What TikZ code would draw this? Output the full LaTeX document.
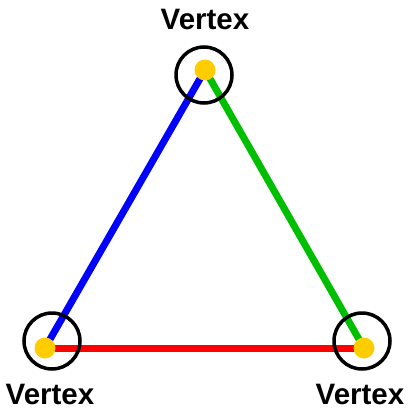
\documentclass[tikz,border=0pt]{standalone}
\usepackage{fontspec}
\setmainfont{Liberation Sans}
\begin{document}
\begin{tikzpicture}[x=1pt,y=-1pt,
  edge/.style={line width=7pt},
  ring/.style={draw=black,line width=3.5pt,circle,minimum size=56pt,inner sep=0pt},
  dot/.style={fill={rgb,255:red,255;green,204;blue,0},circle,minimum size=21pt,inner sep=0pt},
  lbl/.style={font=\bfseries\fontsize{29.5}{31}\selectfont,anchor=base,inner sep=0pt}]
\useasboundingbox (0,0) rectangle (407,412);
% vertex points
\coordinate (t) at (205,70);
\coordinate (l) at (45,348);
\coordinate (r) at (364,348);
% edges
\draw[edge,blue] (l) -- (t);
\draw[edge,green!75!black] (t) -- (r);
\draw[edge,red] (l) -- (r);
% dots
\node[dot] (td) at (t) {};
\node[dot] (ld) at (l) {};
\node[dot] (rd) at (r) {};
% rings
\node[ring] (tr) at (204,75) {};
\node[ring] (lr) at (52,341) {};
\node[ring] (rr) at (362,341) {};
% labels
\node[lbl] (tl) at (205,30) {Vertex};
\node[lbl] (ll) at (50,404) {Vertex};
\node[lbl] (rl) at (360,404) {Vertex};
\end{tikzpicture}
\end{document}
